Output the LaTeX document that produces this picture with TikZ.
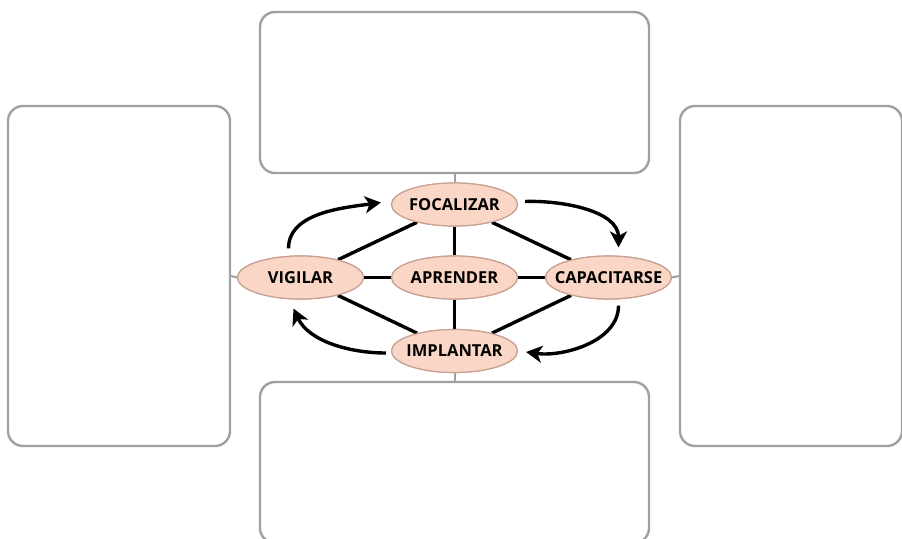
\documentclass[tikz,border=0pt]{standalone}
\usepackage{fontspec}
\setsansfont{Open Sans}
\usetikzlibrary{shapes.geometric,arrows.meta}
\definecolor{boxgray}{RGB}{160,160,160}
\definecolor{ellfill}{RGB}{250,214,198}
\definecolor{elldraw}{RGB}{200,160,145}
\newcommand{\stagetext}[1]{\makebox[0pt]{#1}}
\tikzset{
  panel/.style={draw=boxgray,line width=2.4pt,rounded corners=15pt,fill=white,inner sep=0pt},
  stage/.style={ellipse,draw=elldraw,line width=1.2pt,fill=ellfill,minimum width=126pt,minimum height=43pt,inner sep=0pt,font=\sffamily\bfseries\fontsize{16.5}{19}\selectfont},
  link/.style={line width=3.4pt,black},
  feed/.style={line width=2pt,boxgray},
  cyc/.style={line width=3.4pt,black,-{Stealth[length=16pt,width=17pt,inset=4.5pt]}}
}
\begin{document}
\begin{tikzpicture}[x=1pt,y=-1pt]
\useasboundingbox (0,0) rectangle (902,538);
\clip (0,0) rectangle (902,538);
% panels
\node[panel,minimum width=389pt,minimum height=161pt] (topbox) at (454.5,92.5) {};
\node[panel,minimum width=389pt,minimum height=161pt] (botbox) at (454.5,462.5) {};
\node[panel,minimum width=222pt,minimum height=340pt] (leftbox) at (119,276) {};
\node[panel,minimum width=222pt,minimum height=340pt] (rightbox) at (791,276) {};
% stages
\node[stage] (foc) at (454.5,204.5) {\stagetext{FOCALIZAR}};
\node[stage] (apr) at (454.5,277.5) {\stagetext{APRENDER}};
\node[stage] (vig) at (300.5,277.5) {\stagetext{VIGILAR}};
\node[stage] (cap) at (608.5,277.5) {\stagetext{CAPACITARSE}};
\node[stage] (imp) at (454.5,351) {\stagetext{IMPLANTAR}};
% gray feeds
\draw[feed] (topbox.south) -- (foc.north);
\draw[feed] (botbox.north) -- (imp.south);
\draw[feed] (leftbox.east) -- (vig.west);
\draw[feed] (cap.east) -- (rightbox.west);
% links
\draw[link] (foc) -- (apr);
\draw[link] (apr) -- (imp);
\draw[link] (vig) -- (apr);
\draw[link] (apr) -- (cap);
\draw[link] (vig) -- (foc);
\draw[link] (foc) -- (cap);
\draw[link] (cap) -- (imp);
\draw[link] (imp) -- (vig);
% redraw stages on top
\node[stage] at (foc) {\stagetext{FOCALIZAR}};
\node[stage] at (apr) {\stagetext{APRENDER}};
\node[stage] at (vig) {\stagetext{VIGILAR}};
\node[stage] at (cap) {\stagetext{CAPACITARSE}};
\node[stage] at (imp) {\stagetext{IMPLANTAR}};
% cycle arrows
\draw[cyc] ([shift={(-12,-7)}]vig.north) to[out=90,in=188,looseness=0.9] ([shift={(-10,-2)}]foc.west);
\draw[cyc] ([shift={(7,-3)}]foc.east) to[out=2,in=90,looseness=0.9] ([shift={(10,-8)}]cap.north);
\draw[cyc] ([shift={(10,6)}]cap.south) to[out=-90,in=-8,looseness=0.9] ([shift={(8,1)}]imp.east);
\draw[cyc] ([shift={(-5,2)}]imp.west) to[out=180,in=-65,looseness=0.9] ([shift={(-7,9)}]vig.south);
\end{tikzpicture}
\end{document}
